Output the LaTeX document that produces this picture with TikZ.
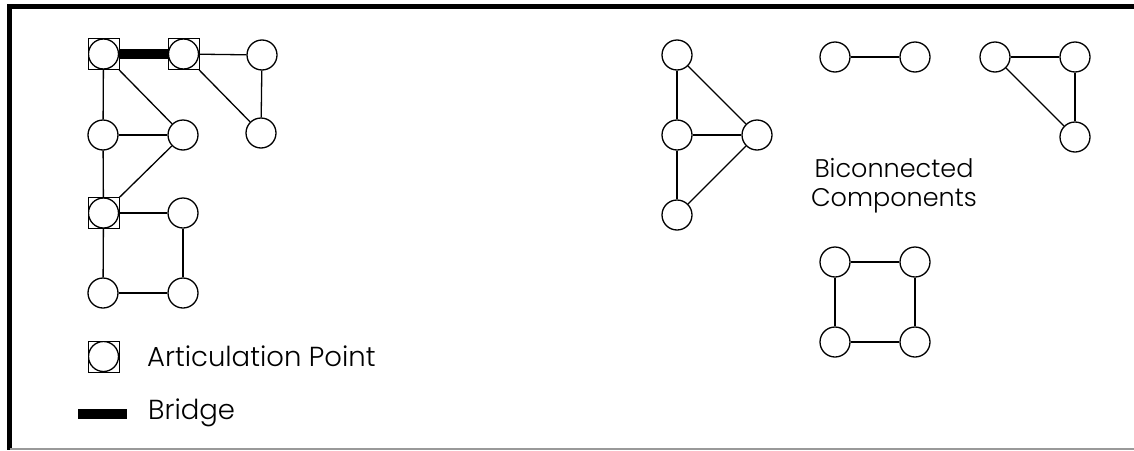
\documentclass[tikz,border=0pt]{standalone}
\usepackage{fontspec}
\setmainfont{Poppins}[UprightFont=* Light]
\begin{document}
\begin{tikzpicture}[x=1pt,y=-1pt,
  vert/.style={circle,draw,line width=1.3pt,minimum size=30pt,inner sep=0pt},
  artic/.style={rectangle,draw,line width=0.9pt,minimum size=31pt,inner sep=0pt,
    path picture={\draw[line width=1.3pt] (path picture bounding box.center) circle (15pt);}},
  edge/.style={line width=1.3pt},
  bridgeedge/.style={line width=10pt},
  lbl/.style={font=\fontsize{27.5}{29}\selectfont,inner sep=0pt},
  lblb/.style={font=\fontsize{25.5}{29}\selectfont,inner sep=0pt}]
\useasboundingbox (0,0) rectangle (1134,450);
% frame
\coordinate (ftl) at (9.5,6.5);
\coordinate (ftr) at (1134,6.5);
\coordinate (fbl) at (9.5,450);
\coordinate (fbl2) at (9.5,449);
\coordinate (fbr) at (1134,449);
\draw[line width=5pt] (ftr) -- (ftl) -- (fbl);
\draw[line width=1.5pt,gray!80] (fbl2) -- (fbr);
% left graph
\node[artic] (A) at (103.5,54) {};
\node[artic] (B) at (183.5,54) {};
\node[vert] (C) at (262,55) {};
\node[vert] (D) at (261,133) {};
\node[vert] (E) at (103,135) {};
\node[vert] (F) at (183,135) {};
\node[artic] (G) at (103.5,213) {};
\node[vert] (H) at (183,213) {};
\node[vert] (I) at (103,293) {};
\node[vert] (J) at (183,293) {};
\draw[bridgeedge] (A) -- (B);
\draw[edge] (B) -- (C);
\draw[edge] (C) -- (D);
\draw[edge] (B) -- (D);
\draw[edge] (A) -- (E);
\draw[edge] (A) -- (F);
\draw[edge] (E) -- (F);
\draw[edge] (E) -- (G);
\draw[edge] (F) -- (G);
\draw[edge] (G) -- (H);
\draw[edge] (H) -- (J);
\draw[edge] (G) -- (I);
\draw[edge] (I) -- (J);
% legend
\node[artic] (LA) at (103.5,356.5) {};
\node[lbl,anchor=base west] (LAt) at (147,366) {Articulation Point};
\coordinate (LB1) at (78,413.5);
\coordinate (LB2) at (127,413.5);
\draw[bridgeedge] (LB1) -- (LB2);
\node[lbl,anchor=base west] (LBt) at (148,419) {Bridge};
% biconnected components
\node[vert] (P1) at (677,55) {};
\node[vert] (P2) at (677,135) {};
\node[vert] (P3) at (757,135) {};
\node[vert] (P4) at (677,215) {};
\draw[edge] (P1) -- (P2);
\draw[edge] (P1) -- (P3);
\draw[edge] (P2) -- (P3);
\draw[edge] (P2) -- (P4);
\draw[edge] (P3) -- (P4);
\node[vert] (Q1) at (835,57) {};
\node[vert] (Q2) at (915,57) {};
\draw[edge] (Q1) -- (Q2);
\node[vert] (R1) at (995,57) {};
\node[vert] (R2) at (1075,57) {};
\node[vert] (R3) at (1075,137) {};
\draw[edge] (R1) -- (R2);
\draw[edge] (R2) -- (R3);
\draw[edge] (R1) -- (R3);
\node[vert] (S1) at (835,262) {};
\node[vert] (S2) at (915,262) {};
\node[vert] (S3) at (835,342) {};
\node[vert] (S4) at (915,342) {};
\draw[edge] (S1) -- (S2);
\draw[edge] (S1) -- (S3);
\draw[edge] (S2) -- (S4);
\draw[edge] (S3) -- (S4);
\node[lblb,align=center,anchor=center] (BC) at (894,186) {Biconnected\\Components};
\end{tikzpicture}
\end{document}
